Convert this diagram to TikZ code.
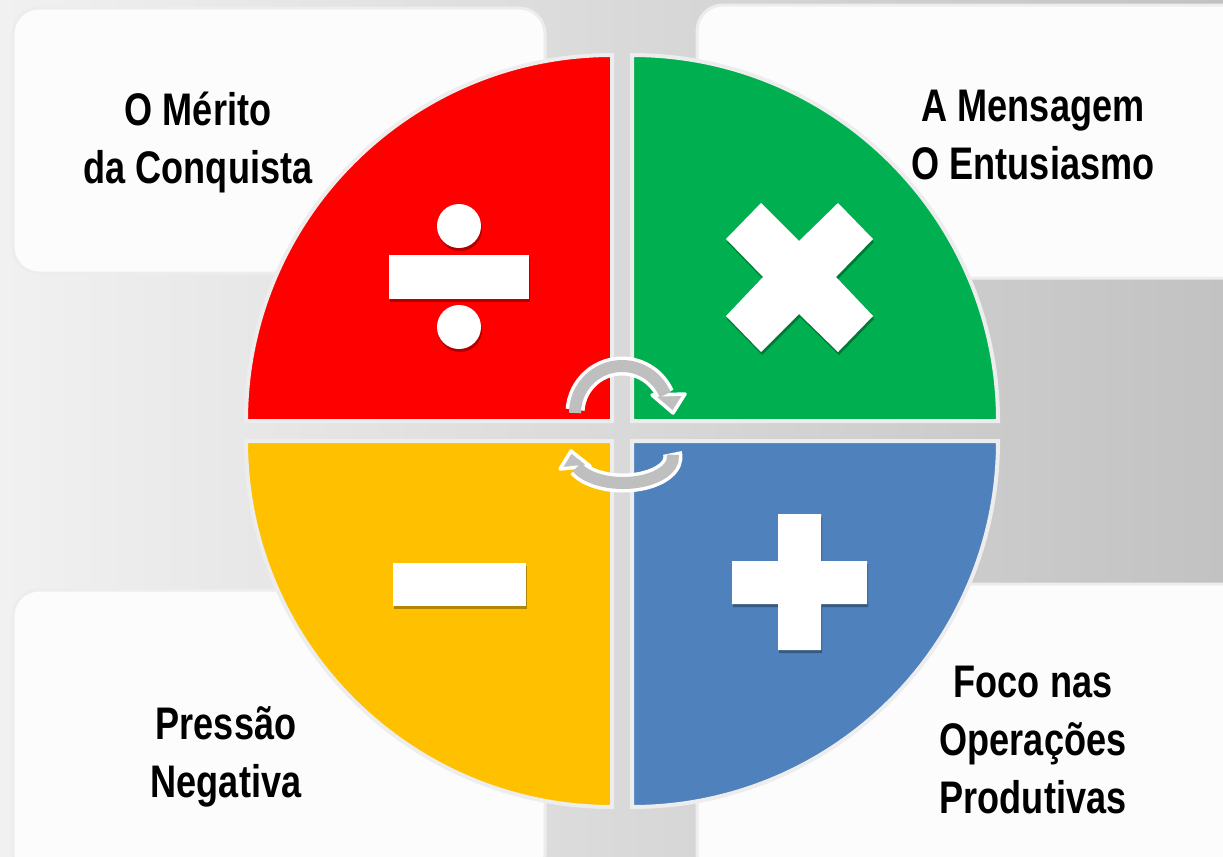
\documentclass[tikz,border=0pt]{standalone}
\usepackage{fontspec}
\newfontfamily\cardfont[FakeStretch=0.79]{Liberation Sans}
\usepackage{tikz}
\usetikzlibrary{shadows, calc}
\definecolor{quadred}{HTML}{FF0000}
\definecolor{quadgreen}{HTML}{00B050}
\definecolor{quadyellow}{HTML}{FFC000}
\definecolor{quadblue}{HTML}{4F81BD}
\definecolor{arrowgray}{HTML}{BFBFBF}
\definecolor{rimgray}{HTML}{EDEDED}
\definecolor{cardwhite}{HTML}{FCFCFC}
\definecolor{bgleft}{HTML}{F1F1F1}
\definecolor{bgright}{HTML}{C2C2C2}
\newdimen\px
\px=0.02cm
\tikzstyle{card} = [rounded corners=26\px, 
fill=cardwhite, 
draw=rimgray, 
line width=3\px]
\tikzstyle{cardtext} = [align=center, 
font=\cardfont\bfseries\fontsize{26}{33}\selectfont]
\tikzstyle{quarter} = [draw=rimgray, 
line width=4\px]
\tikzstyle{sign} = [fill=white, 
drop shadow={shadow xshift=1\px, shadow yshift=-3\px, opacity=0.3, fill=black}]
\tikzstyle{turnrim} = [draw=white, line width=19\px]
\tikzstyle{turnband} = [draw=arrowgray, line width=12\px]
\tikzstyle{turnhead} = [fill=arrowgray, draw=white, line width=3.5\px, line join=round]

\begin{document}
\begin{tikzpicture}[x=0.02cm, y=-0.02cm]
\useasboundingbox (0,0) rectangle (1223,856);
\clip (0,0) rectangle (1223,856);
\shade[left color=bgleft, right color=bgright] (0,0) rectangle (1223,856);

% cards behind the wheel
\draw[card] (13,8) rectangle (545,273);
\draw[card] (697,5) rectangle (1250,278);
\draw[card] (13,590) rectangle (545,880);
\draw[card] (697,584) rectangle (1250,880);

\node[cardtext] (merit) at (198,142) {O Mérito\\da Conquista};
\node[cardtext] (message) at (1033,135) {A Mensagem\\O Entusiasmo};
\node[cardtext] (pressure) at (226,757) {Pressão\\Negativa};
\node[cardtext] (focus) at (1033,740) {Foco nas\\Operações\\Produtivas};

% the four quarters
\filldraw[quarter, fill=quadred] (612,421) -- (246,421) arc[start angle=180, end angle=270, radius=366] -- cycle;
\filldraw[quarter, fill=quadgreen] (632,421) -- (632,55) arc[start angle=270, end angle=360, radius=366] -- cycle;
\filldraw[quarter, fill=quadblue] (632,441) -- (998,441) arc[start angle=0, end angle=90, radius=366] -- cycle;
\filldraw[quarter, fill=quadyellow] (612,441) -- (612,807) arc[start angle=90, end angle=180, radius=366] -- cycle;

% signs
\fill[sign] (459,226) circle[radius=22];
\fill[sign] (389,255) rectangle (529,299);
\fill[sign] (459,327) circle[radius=22];
\fill[sign] (726,239) -- (761,203) -- (799,241) -- (838,203) -- (873,239) -- (836,277) -- (873,316) -- (838,352) -- (799,314) -- (761,352) -- (726,316) -- (763,277) -- cycle;
\fill[sign] (393,563) rectangle (526,606);
\fill[sign] (778,514) -- (821,514) -- (821,561) -- (867,561) -- (867,604) -- (821,604) -- (821,650) -- (778,650) -- (778,604) -- (732,604) -- (732,561) -- (778,561) -- cycle;

% turning arrows
\coordinate (upturn) at (622,413);
\coordinate (downturn) at (623,457);
\draw[turnrim] ($(upturn)+(184:47)$) arc[start angle=184, end angle=336, radius=47];
\filldraw[turnhead] (652,395) -- (685,394) -- (673,413) -- cycle;
\draw[turnband] ($(upturn)+(180:47)$) arc[start angle=180, end angle=337, radius=47];
\draw[turnrim] ($(downturn)+(-9:50 and 26)$) arc[start angle=-9, end angle=156, x radius=50, y radius=26];
\filldraw[turnhead] (560,469) -- (571,451) -- (590,466) -- cycle;
\draw[turnband] ($(downturn)+(-5:50 and 26)$) arc[start angle=-5, end angle=157, x radius=50, y radius=26];
\end{tikzpicture}
\end{document}
